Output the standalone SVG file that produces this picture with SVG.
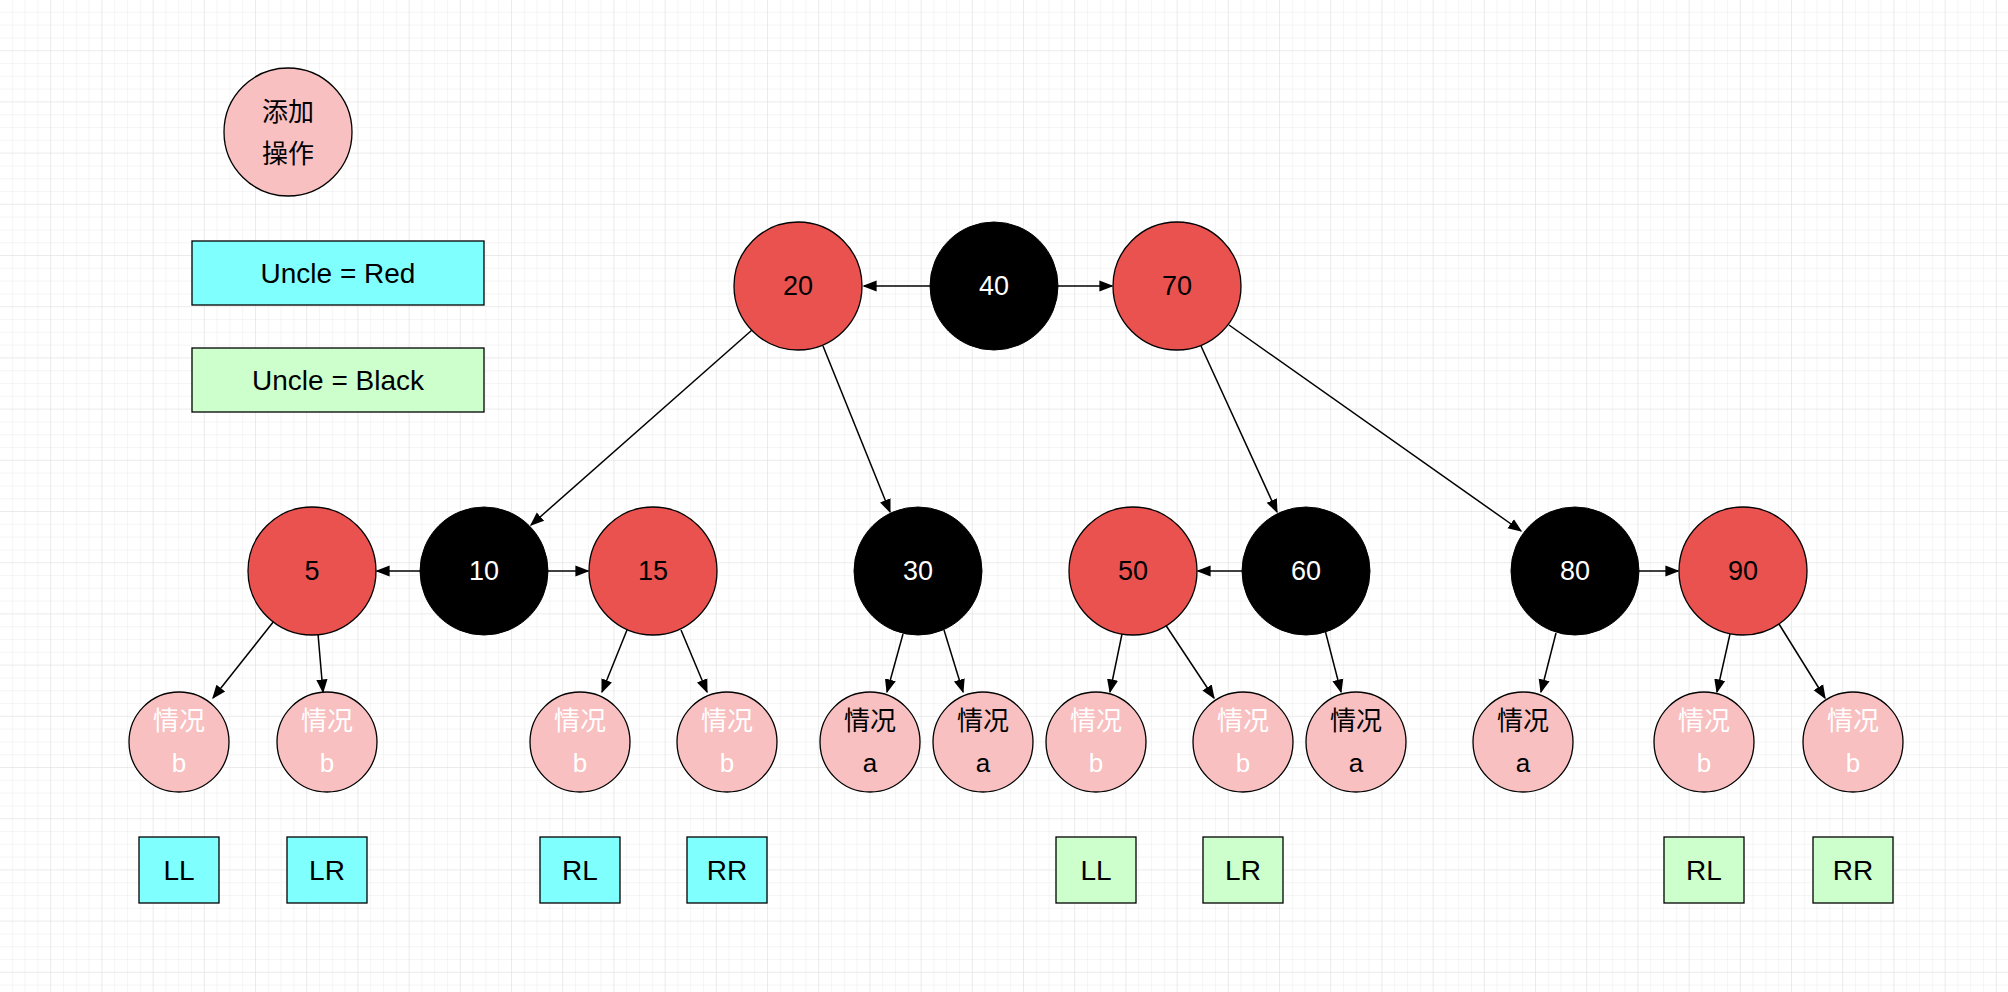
<svg xmlns="http://www.w3.org/2000/svg" width="2008" height="992" viewBox="0 0 2008 992">
<defs>
<pattern id="g" width="12.8" height="12.8" patternUnits="userSpaceOnUse"><path d="M12.8 0V12.8H0" fill="none" stroke="#ececec" stroke-width="1"/></pattern>
<pattern id="G" width="51.2" height="51.2" patternUnits="userSpaceOnUse"><rect width="51.2" height="51.2" fill="url(#g)"/><path d="M51.2 0V51.2H0" fill="none" stroke="#e0e0e0" stroke-width="1"/></pattern>
<marker id="a" viewBox="0 0 10 10" refX="9" refY="5" markerWidth="14" markerHeight="14" markerUnits="userSpaceOnUse" orient="auto"><path d="M0 1L10 5L0 9Z" fill="#000"/></marker>
</defs>
<style>
text{font-family:"Liberation Sans","Noto Sans CJK SC",sans-serif;text-anchor:middle;dominant-baseline:central}
.r{fill:#ea524f;stroke:#000;stroke-width:1.3}
.k{fill:#000;stroke:#000}
.p{fill:#f8c0c0;stroke:#000;stroke-width:1.3}
.n{font-size:27px}
.w{fill:#fff}
.c{font-size:26px}
.b{font-size:28px}
.cy{fill:#80ffff;stroke:#000;stroke-width:1.3}
.gr{fill:#ccffcc;stroke:#000;stroke-width:1.3}
.e{stroke:#000;stroke-width:1.5;fill:none;marker-end:url(#a)}
</style>
<rect width="2008" height="992" fill="#fff"/>
<rect width="2008" height="992" fill="url(#G)"/>
<g id="title"><circle class="p" cx="288" cy="132" r="64"/><text class="c" x="288" y="112">添加</text><text class="c" x="288" y="154">操作</text></g>
<g id="uncleRed"><rect class="cy" x="192" y="241" width="292" height="64"/><text class="b" x="338" y="273">Uncle = Red</text></g>
<g id="uncleBlack"><rect class="gr" x="192" y="348" width="292" height="64"/><text class="b" x="338" y="380">Uncle = Black</text></g>
<g id="connectors">
<path class="e" d="M930 286H864"/><path class="e" d="M1058 286H1112"/>
<path class="e" d="M752 330L531 525"/><path class="e" d="M823 346L890 512"/>
<path class="e" d="M1201 346L1277 512"/><path class="e" d="M1229 325L1521 531"/>
<path class="e" d="M420 571H377"/><path class="e" d="M548 571H588"/>
<path class="e" d="M1242 571H1198"/><path class="e" d="M1639 571H1678"/>
<path class="e" d="M274 621L213 698"/><path class="e" d="M318 634L323 692"/>
<path class="e" d="M627 630L602 692"/><path class="e" d="M681 630L707 692"/>
<path class="e" d="M903 634L887 692"/><path class="e" d="M944 630L963 692"/>
<path class="e" d="M1122 634L1110 692"/><path class="e" d="M1165 624L1214 698"/>
<path class="e" d="M1325 630L1341 692"/><path class="e" d="M1556 633L1541 692"/>
<path class="e" d="M1730 634L1717 692"/><path class="e" d="M1779 624L1825 698"/>
</g>
<g id="n20"><circle class="r" cx="798" cy="286" r="64"/><text class="n" x="798" y="286">20</text></g>
<g id="n40"><circle class="k" cx="994" cy="286" r="64"/><text class="n w" x="994" y="286">40</text></g>
<g id="n70"><circle class="r" cx="1177" cy="286" r="64"/><text class="n" x="1177" y="286">70</text></g>
<g id="n5"><circle class="r" cx="312" cy="571" r="64"/><text class="n" x="312" y="571">5</text></g>
<g id="n10"><circle class="k" cx="484" cy="571" r="64"/><text class="n w" x="484" y="571">10</text></g>
<g id="n15"><circle class="r" cx="653" cy="571" r="64"/><text class="n" x="653" y="571">15</text></g>
<g id="n30"><circle class="k" cx="918" cy="571" r="64"/><text class="n w" x="918" y="571">30</text></g>
<g id="n50"><circle class="r" cx="1133" cy="571" r="64"/><text class="n" x="1133" y="571">50</text></g>
<g id="n60"><circle class="k" cx="1306" cy="571" r="64"/><text class="n w" x="1306" y="571">60</text></g>
<g id="n80"><circle class="k" cx="1575" cy="571" r="64"/><text class="n w" x="1575" y="571">80</text></g>
<g id="n90"><circle class="r" cx="1743" cy="571" r="64"/><text class="n" x="1743" y="571">90</text></g>
<g id="c1"><circle class="p" cx="179" cy="742" r="50"/><text class="c w" x="179" y="721">情况</text><text class="c w" x="179" y="763">b</text></g>
<g id="c2"><circle class="p" cx="327" cy="742" r="50"/><text class="c w" x="327" y="721">情况</text><text class="c w" x="327" y="763">b</text></g>
<g id="c3"><circle class="p" cx="580" cy="742" r="50"/><text class="c w" x="580" y="721">情况</text><text class="c w" x="580" y="763">b</text></g>
<g id="c4"><circle class="p" cx="727" cy="742" r="50"/><text class="c w" x="727" y="721">情况</text><text class="c w" x="727" y="763">b</text></g>
<g id="c5"><circle class="p" cx="870" cy="742" r="50"/><text class="c" x="870" y="721">情况</text><text class="c" x="870" y="763">a</text></g>
<g id="c6"><circle class="p" cx="983" cy="742" r="50"/><text class="c" x="983" y="721">情况</text><text class="c" x="983" y="763">a</text></g>
<g id="c7"><circle class="p" cx="1096" cy="742" r="50"/><text class="c w" x="1096" y="721">情况</text><text class="c w" x="1096" y="763">b</text></g>
<g id="c8"><circle class="p" cx="1243" cy="742" r="50"/><text class="c w" x="1243" y="721">情况</text><text class="c w" x="1243" y="763">b</text></g>
<g id="c9"><circle class="p" cx="1356" cy="742" r="50"/><text class="c" x="1356" y="721">情况</text><text class="c" x="1356" y="763">a</text></g>
<g id="c10"><circle class="p" cx="1523" cy="742" r="50"/><text class="c" x="1523" y="721">情况</text><text class="c" x="1523" y="763">a</text></g>
<g id="c11"><circle class="p" cx="1704" cy="742" r="50"/><text class="c w" x="1704" y="721">情况</text><text class="c w" x="1704" y="763">b</text></g>
<g id="c12"><circle class="p" cx="1853" cy="742" r="50"/><text class="c w" x="1853" y="721">情况</text><text class="c w" x="1853" y="763">b</text></g>
<g id="l1"><rect class="cy" x="139" y="837" width="80" height="66"/><text class="b" x="179" y="870">LL</text></g>
<g id="l2"><rect class="cy" x="287" y="837" width="80" height="66"/><text class="b" x="327" y="870">LR</text></g>
<g id="l3"><rect class="cy" x="540" y="837" width="80" height="66"/><text class="b" x="580" y="870">RL</text></g>
<g id="l4"><rect class="cy" x="687" y="837" width="80" height="66"/><text class="b" x="727" y="870">RR</text></g>
<g id="l5"><rect class="gr" x="1056" y="837" width="80" height="66"/><text class="b" x="1096" y="870">LL</text></g>
<g id="l6"><rect class="gr" x="1203" y="837" width="80" height="66"/><text class="b" x="1243" y="870">LR</text></g>
<g id="l7"><rect class="gr" x="1664" y="837" width="80" height="66"/><text class="b" x="1704" y="870">RL</text></g>
<g id="l8"><rect class="gr" x="1813" y="837" width="80" height="66"/><text class="b" x="1853" y="870">RR</text></g>
</svg>
